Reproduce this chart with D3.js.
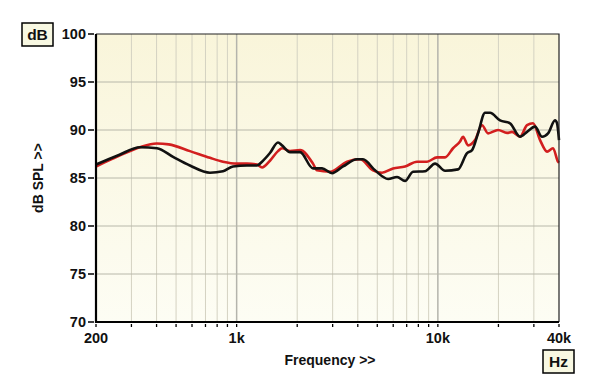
<!DOCTYPE html>
<html lang="en">
<head>
<meta charset="UTF-8">
<title>Frequency response</title>
<style>
  body { margin: 0; background: #fff; }
  svg { display: block; font-family: Arial, "Liberation Sans", sans-serif; }
</style>
<script src="https://d3js.org/d3.v7.min.js"></script>
</head>
<body>
<div id="chart"></div>
<script>
// Red trace: frequency (Hz) / level (dB)
const redFreq = [200, 260, 330, 400, 460, 586, 737, 855, 1004, 1126, 1263, 1337, 1464, 1605, 1681, 1842, 2066, 2396, 2509, 2911, 3537, 4104, 4762, 5279, 5987, 6868, 7879, 8837, 9909, 10860, 11900, 12890, 13340, 14130, 15300, 16580, 17760, 19910, 22070, 23370, 25610, 27750, 29720, 32210, 34900, 37360, 39560, 40000];
const redDb = [86.2, 87.3, 88.2, 88.6, 88.5, 87.8, 87.1, 86.7, 86.5, 86.5, 86.4, 86.1, 86.8, 87.8, 88.1, 87.8, 87.9, 86.5, 85.8, 85.65, 86.7, 86.95, 85.8, 85.55, 86.0, 86.2, 86.7, 86.7, 87.15, 87.15, 88.1, 88.8, 89.3, 88.4, 88.95, 90.5, 89.65, 90.0, 89.7, 89.8, 89.3, 90.5, 90.7, 88.95, 87.75, 88.1, 86.7, 86.6];

// Black trace
const blackFreq = [200, 260, 331, 402, 483, 586, 737, 855, 959, 1126, 1263, 1337, 1464, 1605, 1681, 1842, 2066, 2396, 2657, 2979, 3379, 3966, 4247, 4873, 5655, 6268, 6868, 7527, 8637, 9685, 10860, 12600, 13970, 14790, 15840, 17160, 18170, 20370, 22840, 25610, 27750, 30410, 32950, 35290, 38220, 39110, 40000];
const blackDb = [86.4, 87.4, 88.2, 88.1, 87.2, 86.3, 85.55, 85.7, 86.2, 86.3, 86.3, 86.7, 87.6, 88.7, 88.4, 87.7, 87.7, 86.0, 86.0, 85.5, 86.2, 86.95, 86.95, 85.8, 84.9, 85.1, 84.7, 85.65, 85.7, 86.5, 85.75, 85.9, 87.6, 87.9, 89.65, 91.8, 91.8, 91.0, 90.7, 89.3, 89.8, 90.35, 89.3, 89.65, 91.0, 90.7, 88.95];

const yTicks = [70, 75, 80, 85, 90, 95, 100];
const xLabels = [[200, "200"], [1000, "1k"], [10000, "10k"], [40000, "40k"]];
const xMinor = [300, 400, 500, 600, 700, 800, 900, 2000, 3000, 4000, 5000, 6000, 7000, 8000, 9000, 20000, 30000];

const width = 600, height = 389;
const pLeft = 96, pRight = 559, pTop = 34, pBottom = 322;

const svg = d3.select("#chart").append("svg")
    .attr("width", width).attr("height", height);

const x = d3.scaleLog().domain([200, 40000]).range([pLeft, pRight]);
const y = d3.scaleLinear().domain([70, 100]).range([pBottom, pTop]);

// plot background
const grad = svg.append("defs").append("linearGradient")
    .attr("id", "bg").attr("x1", 0).attr("y1", 0).attr("x2", 0).attr("y2", 1);
grad.append("stop").attr("offset", "0%").attr("stop-color", "#f9f5da");
grad.append("stop").attr("offset", "100%").attr("stop-color", "#fdfdf4");

svg.append("rect")
    .attr("x", pLeft).attr("y", pTop)
    .attr("width", pRight - pLeft).attr("height", pBottom - pTop)
    .attr("fill", "url(#bg)");

// grid
const grid = svg.append("g");
grid.selectAll("line.v").data(xMinor).enter().append("line")
    .attr("x1", d => x(d)).attr("x2", d => x(d))
    .attr("y1", pTop).attr("y2", pBottom)
    .attr("stroke", "#d4d2c2").attr("stroke-width", 1);
grid.selectAll("line.vm").data([1000, 10000]).enter().append("line")
    .attr("x1", d => x(d)).attr("x2", d => x(d))
    .attr("y1", pTop).attr("y2", pBottom)
    .attr("stroke", "#b4b4ac").attr("stroke-width", 1.5);
grid.selectAll("line.h").data(yTicks.slice(1, -1)).enter().append("line")
    .attr("x1", pLeft).attr("x2", pRight)
    .attr("y1", d => y(d)).attr("y2", d => y(d))
    .attr("stroke", "#b8b8aa").attr("stroke-width", 1);

// curves
const line = (fs, vs) => d3.line()
    .x(i => x(fs[i])).y(i => y(vs[i]))
    .curve(d3.curveMonotoneX)(d3.range(fs.length));

svg.append("path").attr("d", line(redFreq, redDb))
    .attr("fill", "none").attr("stroke", "#d21f1f").attr("stroke-width", 2.6)
    .attr("stroke-linejoin", "round");
svg.append("path").attr("d", line(blackFreq, blackDb))
    .attr("fill", "none").attr("stroke", "#111").attr("stroke-width", 2.6)
    .attr("stroke-linejoin", "round");

// frame
svg.append("path")
    .attr("d", `M${pLeft},${pTop}H${pRight}V${pBottom}`)
    .attr("fill", "none").attr("stroke", "#222").attr("stroke-width", 1.2);
svg.append("path")
    .attr("d", `M${pLeft},${pTop}V${pBottom}H${pRight}`)
    .attr("fill", "none").attr("stroke", "#000").attr("stroke-width", 2.2);

// y axis ticks + labels
const ya = svg.append("g");
ya.selectAll("line").data(yTicks).enter().append("line")
    .attr("x1", pLeft - 8).attr("x2", pLeft - 2)
    .attr("y1", d => y(d)).attr("y2", d => y(d))
    .attr("stroke", "#000").attr("stroke-width", 1.5);
ya.selectAll("text").data(yTicks).enter().append("text")
    .attr("x", pLeft - 10).attr("y", d => y(d) + 5)
    .attr("text-anchor", "end").attr("font-weight", "bold").attr("font-size", 14.5)
    .attr("fill", "#111").text(d => d);

// x axis ticks + labels
const xa = svg.append("g");
xa.selectAll("line").data(xMinor.concat([200, 1000, 10000, 40000])).enter().append("line")
    .attr("x1", d => x(d)).attr("x2", d => x(d))
    .attr("y1", pBottom + 2).attr("y2", pBottom + 5)
    .attr("stroke", "#000").attr("stroke-width", 1.3);
xa.selectAll("text").data(xLabels).enter().append("text")
    .attr("x", d => x(d[0])).attr("y", 343)
    .attr("text-anchor", "middle").attr("font-weight", "bold").attr("font-size", 14.5)
    .attr("fill", "#111").text(d => d[1]);

// axis titles
svg.append("text").attr("x", 330).attr("y", 365)
    .attr("text-anchor", "middle").attr("font-weight", "bold").attr("font-size", 14)
    .attr("fill", "#111").text("Frequency >>");
svg.append("text")
    .attr("transform", "translate(43,178) rotate(-90)")
    .attr("text-anchor", "middle").attr("font-weight", "bold").attr("font-size", 14)
    .attr("fill", "#111").text("dB SPL >>");

// unit boxes
function unitBox(x0, y0, w, h, label) {
  svg.append("rect").attr("x", x0).attr("y", y0).attr("width", w).attr("height", h)
      .attr("fill", "#f8f8e2").attr("stroke", "#000").attr("stroke-width", 1.5);
  svg.append("text").attr("x", x0 + w / 2).attr("y", y0 + h / 2 + 5.5)
      .attr("text-anchor", "middle").attr("font-weight", "bold").attr("font-size", 15.5)
      .attr("fill", "#111").text(label);
}
unitBox(22, 23, 31, 23, "dB");
unitBox(543, 350, 31, 23, "Hz");
</script>
</body>
</html>
